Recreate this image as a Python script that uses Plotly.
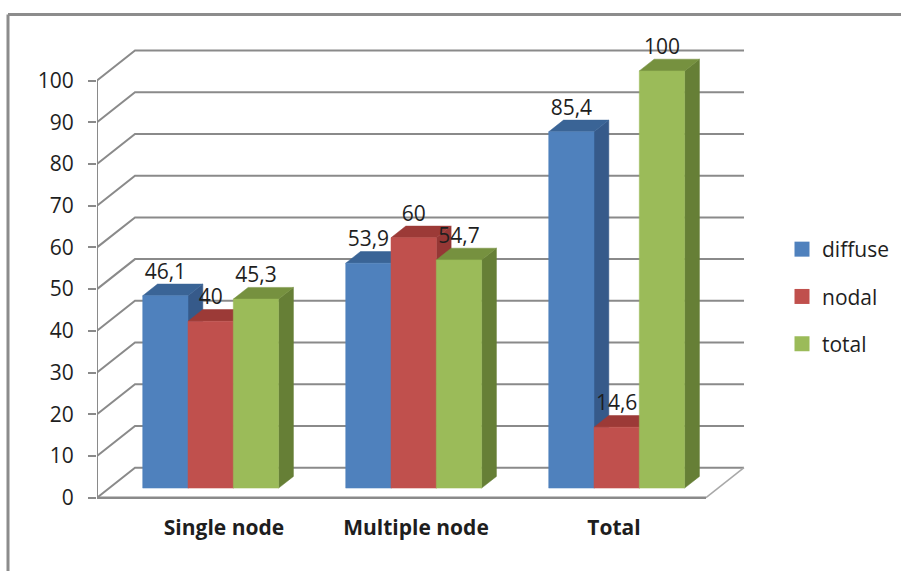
import plotly.graph_objects as go

W, H = 901, 571

# ---- data ----
categories = ["Single node", "Multiple node", "Total"]
series_names = ["diffuse", "nodal", "total"]
diffuse = [46.1, 53.9, 85.4]
nodal = [40, 60, 14.6]
total = [45.3, 54.7, 100]
y_ticks = [0, 10, 20, 30, 40, 50, 60, 70, 80, 90, 100]
label_px_shift = [25.5, 14.5, 9.5]

# ---- styles ----
front_colors = ["#4F81BD", "#C0504D", "#9BBB59"]
top_colors = ["#3A6496", "#9C3A37", "#76913F"]
side_colors = ["#365A8A", "#953735", "#667F36"]
GRID = "#8A8A8A"
TEXT = "#1E1E1E"
FONT = "Open Sans"

# ---- plot frame in pixels ----
AX_L, AX_R, AX_B, AX_T = 97.0, 706.0, 497.7, 80.5
PX_X = (AX_R - AX_L) / 3
PX_Y = (AX_B - AX_T) / 100
WALL_X = 38 / PX_X      # depth of the box in x units
WALL_Y = 30 / PX_Y      # depth of the box in y units
Z0, Z1 = 0.32, 0.71     # depth of bars' front and back faces
BAR_W = 45.3 / PX_X

# plot window (larger than the front plane, so that the depth is not clipped)
WIN_R, WIN_B, WIN_T = 770.0, 503.0, 18.0
x_max = -0.5 + (WIN_R - AX_L) / PX_X
y_min = -(WIN_B - AX_B) / PX_Y
y_max = (AX_B - WIN_T) / PX_Y


def proj(x, y, z):
    return x + z * WALL_X, y + z * WALL_Y


fig = go.Figure()

# back wall / side wall gridlines
for v in y_ticks:
    xs, ys = zip(proj(-0.5, v, 0), proj(-0.5, v, 1), proj(2.5, v, 1))
    fig.add_trace(go.Scatter(x=xs, y=ys, mode="lines", cliponaxis=False, showlegend=False,
                             hoverinfo="skip", line=dict(color=GRID, width=2)))
# floor right edge
xs, ys = zip(proj(2.5, 0, 1), proj(2.5, 0, 0))
fig.add_trace(go.Scatter(x=xs, y=ys, mode="lines", cliponaxis=False, showlegend=False,
                         hoverinfo="skip", line=dict(color="#A8A8A8", width=1.5)))
# front axis lines
fig.add_trace(go.Scatter(x=[-0.5, -0.5], y=[0, 100], mode="lines", cliponaxis=False, showlegend=False,
                         hoverinfo="skip", line=dict(color=GRID, width=2)))
fig.add_trace(go.Scatter(x=[-0.5, 2.5], y=[0, 0], mode="lines", cliponaxis=False, showlegend=False,
                         hoverinfo="skip", line=dict(color=GRID, width=2.5)))


def poly(pts, color):
    xs = [p[0] for p in pts] + [pts[0][0]]
    ys = [p[1] for p in pts] + [pts[0][1]]
    fig.add_trace(go.Scatter(x=xs, y=ys, mode="lines", fill="toself", fillcolor=color,
                             line=dict(color=color, width=0.5), cliponaxis=False,
                             showlegend=False, hoverinfo="skip"))


all_values = [diffuse, nodal, total]
for c in range(len(categories)):
    for s, vals in enumerate(all_values):
        v = vals[c]
        x0 = c + (s - 1.5) * BAR_W
        x1 = x0 + BAR_W
        # side face
        poly([proj(x1, 0, Z0), proj(x1, 0, Z1), proj(x1, v, Z1), proj(x1, v, Z0)], side_colors[s])
        # top face
        poly([proj(x0, v, Z0), proj(x1, v, Z0), proj(x1, v, Z1), proj(x0, v, Z1)], top_colors[s])
        # front face
        poly([proj(x0, 0, Z0), proj(x1, 0, Z0), proj(x1, v, Z0), proj(x0, v, Z0)], front_colors[s])

# value labels
for s, vals in enumerate(all_values):
    xs, ys, txt = [], [], []
    for c, v in enumerate(vals):
        px, py = proj(c + (s - 1) * BAR_W, v, Z0)
        _, py = proj(0, v, Z1)
        xs.append(px)
        ys.append(py)
        txt.append(str(v).replace(".", ","))
    fig.add_trace(go.Scatter(x=xs, y=ys, text=txt, mode="text", textposition="top center",
                             cliponaxis=False, showlegend=False, hoverinfo="skip",
                             textfont=dict(family=FONT, size=21, color=TEXT)))

# legend entries
for s, name in enumerate(series_names):
    fig.add_trace(go.Scatter(x=[None], y=[None], mode="markers", name=name, legendgroup=name,
                             marker=dict(symbol="square", size=15, color=front_colors[s])))

fig.update_layout(
    width=W, height=H,
    margin=dict(l=0, r=0, t=0, b=0, autoexpand=False),
    paper_bgcolor="white", plot_bgcolor="rgba(0,0,0,0)",
    font=dict(family=FONT, color=TEXT),
    xaxis=dict(
        domain=[AX_L / W, WIN_R / W], range=[-0.5, x_max], automargin=False,
        tickmode="array",
        tickvals=[i + label_px_shift[i] / PX_X for i in range(3)],
        ticktext=[f"<b>{c}</b>" for c in categories],
        tickfont=dict(family=FONT, size=21, color=TEXT),
        ticks="", showgrid=False, zeroline=False, showline=False,
        ticklabelstandoff=10,
    ),
    yaxis=dict(
        domain=[(H - WIN_B) / H, (H - WIN_T) / H], range=[y_min, y_max], automargin=False,
        tickmode="array", tickvals=y_ticks,
        tickfont=dict(family=FONT, size=21, color=TEXT),
        ticks="outside", ticklen=8, tickwidth=2, tickcolor=GRID,
        showgrid=False, zeroline=False, showline=False,
        ticklabelstandoff=10,
    ),
    legend=dict(
        x=782 / W, y=(H - 229) / H, xanchor="left", yanchor="top",
        font=dict(family=FONT, size=21, color=TEXT),
        tracegroupgap=17, itemwidth=30, bgcolor="rgba(0,0,0,0)",
    ),
    shapes=[
        dict(type="line", xref="paper", yref="paper", x0=8 / W, x1=1, y0=(H - 14.5) / H, y1=(H - 14.5) / H,
             line=dict(color="#8C8C8C", width=3)),
        dict(type="line", xref="paper", yref="paper", x0=8 / W, x1=8 / W, y0=0, y1=(H - 14.5) / H,
             line=dict(color="#8C8C8C", width=3)),
    ],
)

fig.write_html("out.html", config={"displayModeBar": False},
               post_script="document.body.style.margin='0';")
